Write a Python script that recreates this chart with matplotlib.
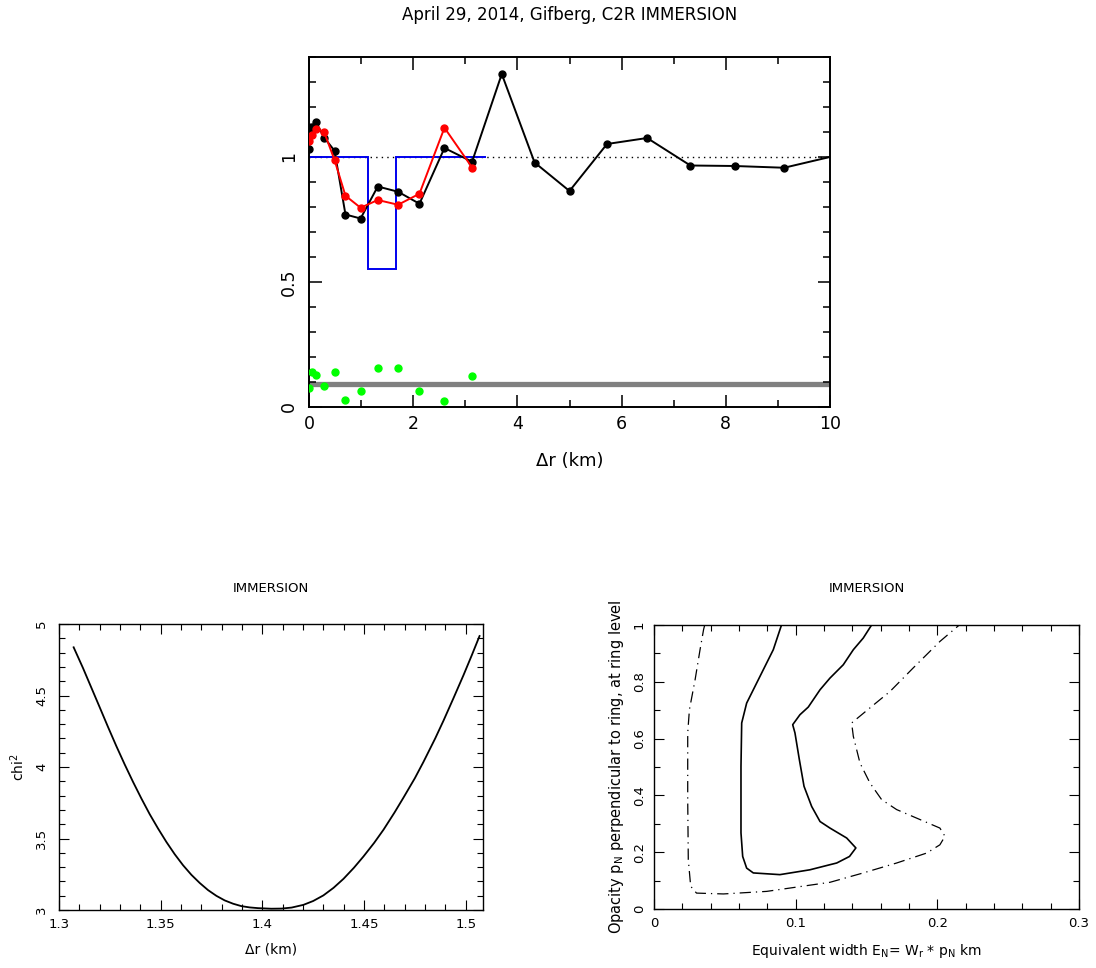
import numpy as np
import matplotlib
matplotlib.use('Agg')
import matplotlib.pyplot as plt
from matplotlib.ticker import MultipleLocator, FuncFormatter

plt.rcParams['font.family'] = ['DejaVu Sans']
plt.rcParams['mathtext.default'] = 'regular'

# top panel: normalised flux vs radial distance
dr_obs = [0.0, 0.04, 0.13, 0.29, 0.49, 0.70, 0.99, 1.32, 1.71, 2.12, 2.60, 3.13,
          3.70, 4.33, 5.00, 5.72, 6.49, 7.32, 8.17, 9.12, 10.2]
flux_obs = [1.034, 1.122, 1.141, 1.078, 1.025, 0.770, 0.754, 0.882, 0.861, 0.813,
            1.036, 0.981, 1.332, 0.978, 0.864, 1.052, 1.076, 0.966, 0.964, 0.957, 1.01]
dr_fit = [0.0, 0.05, 0.14, 0.29, 0.49, 0.70, 0.99, 1.32, 1.71, 2.12, 2.60, 3.13]
flux_fit = [1.065, 1.087, 1.113, 1.100, 0.988, 0.845, 0.797, 0.828, 0.809, 0.853,
            1.117, 0.958]
resid = [0.076, 0.142, 0.130, 0.084, 0.142, 0.030, 0.063, 0.158, 0.158, 0.066,
         0.026, 0.124]
model_edges = [0.0, 1.14, 1.67, 3.40]
model_levels = [1.0, 0.553, 1.0]
noise_level = 0.094

# bottom-left: chi2 vs radial offset
chi_dr = [1.3072, 1.3118, 1.3159, 1.3200, 1.3241, 1.3282, 1.3323, 1.3364, 1.3405,
          1.3446, 1.3487, 1.3528, 1.3569, 1.3610, 1.3651, 1.3692, 1.3733, 1.3774,
          1.3815, 1.3856, 1.3897, 1.3938, 1.3979, 1.4044, 1.4095, 1.4144, 1.4202,
          1.4250, 1.4300, 1.4350, 1.4399, 1.4450, 1.4497, 1.4550, 1.4596, 1.4650,
          1.4694, 1.4750, 1.4792, 1.4850, 1.4891, 1.4940, 1.4989, 1.5030, 1.5068]
chi2 = [4.837, 4.692, 4.555, 4.418, 4.280, 4.146, 4.018, 3.896, 3.780,
        3.670, 3.570, 3.476, 3.390, 3.313, 3.246, 3.189, 3.139, 3.099,
        3.067, 3.044, 3.027, 3.018, 3.013, 3.009, 3.010, 3.017, 3.036,
        3.063, 3.102, 3.155, 3.218, 3.295, 3.374, 3.470, 3.562, 3.682,
        3.786, 3.922, 4.035, 4.200, 4.325, 4.482, 4.642, 4.782, 4.916]

# bottom-right: confidence contours (equivalent width, opacity)
c1_ew = [0.090, 0.0842, 0.0725, 0.0654, 0.0619, 0.0614, 0.0614, 0.0626, 0.0654,
         0.0701, 0.0889, 0.110, 0.1242, 0.129, 0.138, 0.1425, 0.136, 0.1242,
         0.1172, 0.1113, 0.1059, 0.1026, 0.0995, 0.0979, 0.103, 0.1089, 0.1172,
         0.1242, 0.1336, 0.1407, 0.1477, 0.1536]
c1_op = [1.0, 0.913, 0.796, 0.725, 0.655, 0.502, 0.268, 0.185, 0.144, 0.127,
         0.121, 0.138, 0.156, 0.162, 0.185, 0.215, 0.250, 0.285, 0.308, 0.361,
         0.432, 0.526, 0.620, 0.649, 0.684, 0.711, 0.772, 0.813, 0.860, 0.913,
         0.954, 1.0]
c2_ew = [0.0358, 0.035, 0.0325, 0.029, 0.025, 0.0238, 0.0238, 0.0242, 0.0259,
         0.030, 0.049, 0.0795, 0.1242, 0.1477, 0.1713, 0.1925, 0.2018, 0.2054,
         0.2018, 0.1854, 0.1713, 0.1607, 0.1524, 0.1454, 0.1407, 0.1395, 0.1524,
         0.1666, 0.183, 0.2018, 0.2155]
c2_op = [1.0, 0.984, 0.913, 0.807, 0.702, 0.620, 0.385, 0.174, 0.080, 0.056,
         0.053, 0.062, 0.094, 0.127, 0.162, 0.197, 0.226, 0.256, 0.285, 0.320,
         0.350, 0.385, 0.444, 0.514, 0.608, 0.655, 0.708, 0.766, 0.849, 0.942, 1.0]


def fmt(v, pos):
    return '%g' % round(v, 3)


def style_axes(ax, major, minor, spine_w, label_size, xpad, ypad):
    ax.tick_params(which='both', direction='in', top=True, right=True,
                   width=spine_w * 0.8, labelsize=label_size)
    ax.tick_params(which='major', length=major)
    ax.tick_params(which='minor', length=minor)
    ax.tick_params(axis='x', pad=xpad)
    ax.tick_params(axis='y', pad=ypad)
    for s in ax.spines.values():
        s.set_linewidth(spine_w)
    ax.xaxis.set_major_formatter(FuncFormatter(fmt))
    ax.yaxis.set_major_formatter(FuncFormatter(fmt))
    for lab in ax.get_yticklabels():
        lab.set_rotation(90)
        lab.set_va('center')


fig = plt.figure(figsize=(10.96, 9.68), dpi=100)

# ---- top panel
ax = fig.add_axes([309 / 1096, 1 - 407 / 968, 521 / 1096, 350 / 968])
ax.axhline(1.0, color='black', lw=1.0, ls=(0, (1, 3)), zorder=1)
ax.axhline(noise_level, color='#808080', lw=3.8, zorder=1)
ax.stairs(model_levels, model_edges, baseline=None, color='#0000ee', lw=1.4, zorder=2)
ax.plot(dr_obs, flux_obs, color='black', lw=1.4, marker='o', ms=5, zorder=3)
ax.plot(dr_fit, flux_fit, color='#ff0000', lw=1.4, marker='o', ms=5, zorder=4)
ax.plot(dr_fit, resid, ls='none', color='#00ff00', marker='o', ms=5, zorder=4)
ax.set_xlim(0, 10)
ax.set_ylim(0, 1.4)
ax.xaxis.set_major_locator(MultipleLocator(2))
ax.xaxis.set_minor_locator(MultipleLocator(1))
ax.yaxis.set_major_locator(MultipleLocator(0.5))
ax.yaxis.set_minor_locator(MultipleLocator(0.1))
style_axes(ax, 9, 5, 1.4, 12.5, 6, 8)
ax.set_xlabel('Δr (km)', fontsize=13)
ax.xaxis.set_label_coords(0.5, -0.13)
fig.text(569.5 / 1096, 1 - 15 / 968, 'April 29, 2014, Gifberg, C2R IMMERSION',
         ha='center', va='center', fontsize=12)

# ---- bottom left: chi2
ax2 = fig.add_axes([59 / 1096, 1 - 910 / 968, 424 / 1096, 286 / 968])
ax2.plot(chi_dr, chi2, color='black', lw=1.3)
ax2.set_xlim(1.3, 1.5085)
ax2.set_ylim(3, 5)
ax2.xaxis.set_major_locator(MultipleLocator(0.05))
ax2.xaxis.set_minor_locator(MultipleLocator(0.01))
ax2.yaxis.set_major_locator(MultipleLocator(0.5))
ax2.yaxis.set_minor_locator(MultipleLocator(0.1))
style_axes(ax2, 7, 4, 1.0, 9.5, 6, 8)
ax2.set_xlabel('Δr (km)', fontsize=10)
ax2.xaxis.set_label_coords(0.5, -0.115)
ax2.set_ylabel('chi$^2$', fontsize=10)
ax2.yaxis.set_label_coords(-0.075, 0.5)
fig.text(271 / 1096, 1 - 589 / 968, 'IMMERSION', ha='center', va='center', fontsize=9.5)

# ---- bottom right: contours
ax3 = fig.add_axes([654 / 1096, 1 - 909 / 968, 425 / 1096, 284 / 968])
ax3.plot(c2_ew, c2_op, color='black', lw=0.9, ls=(0, (9, 4, 1, 4)))
ax3.plot(c1_ew, c1_op, color='black', lw=1.2)
ax3.set_xlim(0, 0.3)
ax3.set_ylim(0, 1)
ax3.xaxis.set_major_locator(MultipleLocator(0.1))
ax3.xaxis.set_minor_locator(MultipleLocator(0.02))
ax3.yaxis.set_major_locator(MultipleLocator(0.2))
ax3.yaxis.set_minor_locator(MultipleLocator(0.1))
style_axes(ax3, 7, 4, 1.0, 9.5, 6, 6)
ax3.set_xlabel('Equivalent width E$_N$= W$_r$ * p$_N$ km', fontsize=10)
ax3.xaxis.set_label_coords(0.5, -0.115)
ax3.set_ylabel('Opacity p$_N$ perpendicular to ring, at ring level', fontsize=10.5)
ax3.yaxis.set_label_coords(-0.065, 0.5)
fig.text(866.5 / 1096, 1 - 589 / 968, 'IMMERSION', ha='center', va='center', fontsize=9.5)

fig.savefig('out.png', dpi=100)
